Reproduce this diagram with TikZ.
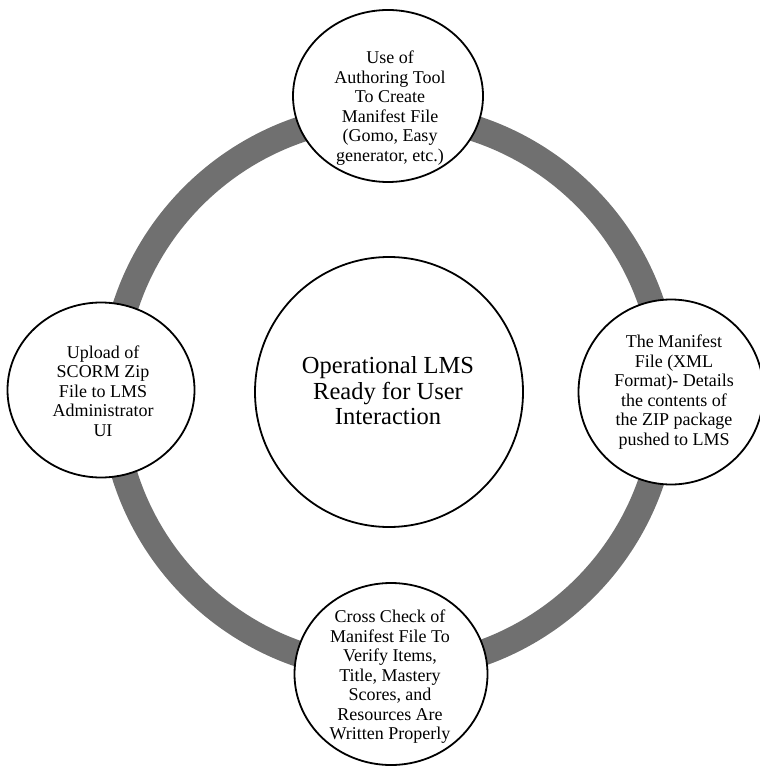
\documentclass[tikz,border=0pt]{standalone}
\usepackage{fontspec}
\setmainfont{Liberation Serif}
\usetikzlibrary{shapes.geometric}
\definecolor{ringgray}{RGB}{112,112,112}
\begin{document}
\begin{tikzpicture}[x=1pt,y=-1pt,
  bubble/.style={draw=black,line width=1.8pt,fill=white,ellipse,inner sep=0pt},
  steptext/.style={align=center,inner sep=0pt,font=\fontsize{18}{19.5}\selectfont},
  hubtext/.style={align=center,inner sep=0pt,font=\fontsize{24.5}{25.5}\selectfont}]
\useasboundingbox (0,0) rectangle (759,767);
% cycle ring behind the stages
\coordinate (hubc) at (389,392);
\draw[ringgray,line width=26pt] (hubc) circle[radius=277];
% central hub
\node[bubble,minimum width=268pt,minimum height=270pt] (hub) at (hubc) {};
\node[hubtext] (hubt) at (388,391) {Operational LMS\\Ready for User\\Interaction};
% four stages on the ring
\node[bubble,minimum width=190pt,minimum height=172pt] (author) at (388,96) {};
\node[steptext] (authort) at (390,108) {Use of\\Authoring Tool\\To Create\\Manifest File\\(Gomo, Easy\\generator, etc.)};
\node[bubble,minimum width=185pt,minimum height=185pt] (manifest) at (671,392) {};
\node[steptext] (manifestt) at (674,392) {The Manifest\\File (XML\\Format)- Details\\the contents of\\the ZIP package\\pushed to LMS};
\node[bubble,minimum width=193pt,minimum height=182pt] (check) at (391,674) {};
\node[steptext] (checkt) at (390,677) {Cross Check of\\Manifest File To\\Verify Items,\\Title, Mastery\\Scores, and\\Resources Are\\Written Properly};
\node[bubble,minimum width=187pt,minimum height=175pt] (upload) at (101,390) {};
\node[steptext] (uploadt) at (103,391) {Upload of\\SCORM Zip\\File to LMS\\Administrator\\UI};
\end{tikzpicture}
\end{document}
